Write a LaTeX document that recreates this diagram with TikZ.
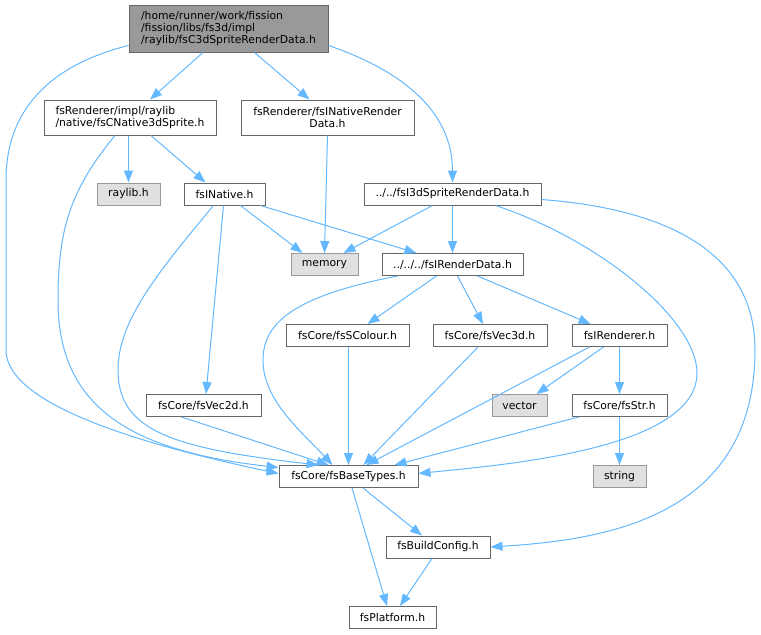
\documentclass[tikz,border=0pt]{standalone}
\usepackage{fontspec}
\setmainfont{DejaVu Sans}
\usetikzlibrary{arrows.meta}
\definecolor{inclblue}{HTML}{63B8FF}
\definecolor{filegray}{HTML}{666666}
\definecolor{sysgray}{HTML}{999999}
\definecolor{sysfill}{HTML}{E0E0E0}
\definecolor{srcfill}{HTML}{999999}

\begin{document}
\begin{tikzpicture}[x=1pt,y=-1pt,
  file/.style={rectangle,draw=filegray,fill=white,line width=1pt,minimum height=22pt,inner sep=0pt,font=\fontsize{10.8}{12.3}\selectfont},
  sys/.style={file,draw=sysgray,fill=sysfill},
  incl/.style={draw=inclblue,line width=1pt,-{Triangle[length=12pt,width=9pt,fill=inclblue]}}]
\useasboundingbox (0,0) rectangle (761,635);

\node[file,fill=srcfill,minimum width=199pt,minimum height=47pt,align=left] (src) at (228.5,28.5)
  {/home/runner/work/fission\\/fission/libs/fs3d/impl\\/raylib/fsC3dSpriteRenderData.h};
\node[file,minimum width=172pt,minimum height=35pt,align=left] (native3d) at (130,117.5)
  {fsRenderer/impl/raylib\\/native/fsCNative3dSprite.h};
\node[file,minimum width=173pt,minimum height=35pt,align=center] (nativerd) at (327.5,117.5)
  {fsRenderer/fsINativeRender\\Data.h};
\node[file,minimum width=177pt] (sprited) at (452.5,194) {../../fsI3dSpriteRenderData.h};
\node[sys,minimum width=63pt] (raylib) at (128.5,194) {raylib.h};
\node[file,minimum width=81pt] (fsinative) at (224.5,194) {fsINative.h};
\node[sys,minimum width=67pt] (memory) at (324.5,264.5) {memory};
\node[file,minimum width=141pt] (renderdata) at (452.5,264.5) {../../../fsIRenderData.h};
\node[file,minimum width=123pt] (scolour) at (347.5,335.5) {fsCore/fsSColour.h};
\node[file,minimum width=114pt] (vec3d) at (490,335.5) {fsCore/fsVec3d.h};
\node[file,minimum width=95pt] (renderer) at (619.5,335.5) {fsIRenderer.h};
\node[sys,minimum width=55pt] (vector) at (519.5,405.5) {vector};
\node[file,minimum width=95pt] (fsstr) at (619.5,405.5) {fsCore/fsStr.h};
\node[file,minimum width=115pt] (vec2d) at (203.5,405.5) {fsCore/fsVec2d.h};
\node[sys,minimum width=53pt] (string) at (619.5,476.5) {string};
\node[file,minimum width=139pt] (basetypes) at (348.5,476.5) {fsCore/fsBaseTypes.h};
\node[file,minimum width=104pt] (buildconfig) at (438,547) {fsBuildConfig.h};
\node[file,minimum width=87pt] (platform) at (392.5,617.5) {fsPlatform.h};

\draw[incl] ([xshift=-25.5]src.south) -- ([xshift=20]native3d.north);
\draw[incl] ([xshift=26]src.south) -- ([xshift=-18]nativerd.north);
\draw[incl] ([yshift=7]src.south east) .. controls (400,70) and (452.5,110) .. (sprited.north);
\draw[incl] ([yshift=7]src.south west) .. controls (50,65) and (6,110) .. (6,180) -- (6,350)
  .. controls (6,400) and (120,440) .. ([yshift=3]basetypes.west);
\draw[incl] (raylib.north |- native3d.south) -- (raylib.north);
\draw[incl] ([xshift=21]native3d.south) -- ([xshift=-19]fsinative.north);
\draw[incl] ([xshift=-15]native3d.south) .. controls (70,190) and (58,230) .. (58,300)
  .. controls (58,400) and (120,450) .. ([yshift=9]basetypes.west);
\draw[incl] (nativerd.south) -- (memory.north);
\draw[incl] ([xshift=16]fsinative.south) -- ([xshift=-22]memory.north);
\draw[incl] ([xshift=36]fsinative.south) -- ([xshift=-36]renderdata.north);
\draw[incl] ([xshift=-1]fsinative.south) -- ([xshift=2.5]vec2d.north);
\draw[incl] ([xshift=-11]fsinative.south) .. controls (160,270) and (118,320) .. (118,370)
  .. controls (118,430) and (170,448) .. ([xshift=-30]basetypes.north);
\draw[incl] ([xshift=-20]sprited.south) -- ([xshift=19]memory.north);
\draw[incl] (sprited.south) -- (renderdata.north);
\draw[incl] ([xshift=43]sprited.south) .. controls (600,240) and (697,320) .. (697,373)
  .. controls (697,450) and (500,465) .. ([yshift=3]basetypes.east);
\draw[incl] ([yshift=6]sprited.south east) .. controls (680,210) and (755,260) .. (755,350)
  .. controls (755,520) and (600,540) .. (buildconfig.east);
\draw[incl] ([xshift=-55]renderdata.south) .. controls (300,295) and (263,320) .. (263,360)
  .. controls (263,400) and (300,430) .. ([xshift=-16]basetypes.north);
\draw[incl] ([xshift=-16]renderdata.south) -- ([xshift=20]scolour.north);
\draw[incl] ([xshift=5]renderdata.south) -- ([xshift=-7]vec3d.north);
\draw[incl] ([xshift=25]renderdata.south) -- ([xshift=-29]renderer.north);
\draw[incl] (basetypes.north |- scolour.south) -- (basetypes.north);
\draw[incl] ([xshift=-12]vec3d.south) -- ([xshift=15]basetypes.north);
\draw[incl] ([xshift=-16]renderer.south) -- ([xshift=17]vector.north);
\draw[incl] ([xshift=-30]renderer.south) -- ([xshift=18]basetypes.north);
\draw[incl] (renderer.south) -- (fsstr.north);
\draw[incl] (fsstr.south) -- (string.north);
\draw[incl] ([xshift=-41]fsstr.south) -- ([xshift=46]basetypes.north);
\draw[incl] ([xshift=-22]vec2d.south) -- ([xshift=-20]basetypes.north);
\draw[incl] ([xshift=3.5]basetypes.south) -- ([xshift=-5.5]platform.north);
\draw[incl] ([xshift=14.5]basetypes.south) -- ([xshift=-16]buildconfig.north);
\draw[incl] ([xshift=-6]buildconfig.south) -- ([xshift=7.5]platform.north);
\end{tikzpicture}
\end{document}
